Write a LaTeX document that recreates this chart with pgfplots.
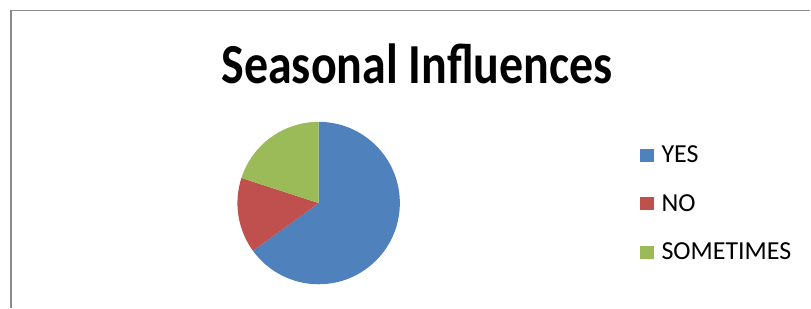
\documentclass[border=0pt]{standalone}
\usepackage{pgfplots}
\usepackage{pgfplotstable}
\pgfplotsset{compat=1.18}
\usepackage{fontspec}
\setmainfont{Carlito}
\definecolor{cYes}{HTML}{4F81BD}
\definecolor{cNo}{HTML}{C0504D}
\definecolor{cSome}{HTML}{9BBB59}
\definecolor{frame}{HTML}{8A8A8A}
\pgfplotstableread{
label value
YES 65
NO 15
SOMETIMES 20
}\piedata
\pgfplotstablegetelem{0}{value}\of\piedata \let\vA\pgfplotsretval
\pgfplotstablegetelem{1}{value}\of\piedata \let\vB\pgfplotsretval
\pgfplotstablegetelem{2}{value}\of\piedata \let\vC\pgfplotsretval
\pgfmathsetmacro\tot{\vA+\vB+\vC}
\pgfmathsetmacro\aA{90}
\pgfmathsetmacro\aB{\aA-360*(\vA/\tot)}
\pgfmathsetmacro\aC{\aB-360*(\vB/\tot)}
\pgfmathsetmacro\aD{\aC-360*(\vC/\tot)}
\def\R{60.975pt}
\begin{document}
\begin{tikzpicture}
\begin{axis}[
  hide axis, scale only axis,
  width=608.25pt, height=231pt,
  xmin=0, xmax=811, ymin=0, ymax=308,
  clip=false,
  legend cell align=left,
  legend image code/.code={\fill[#1, draw=none] (0pt,-5pt) rectangle (10.2pt,5pt);},
  legend style={at={(axis cs:640.7,162)}, anchor=north west, draw=none, fill=none,
    inner sep=0pt, outer sep=0pt, row sep=22.25pt,
    font=\fontsize{19.5}{20}\selectfont,
    nodes={inner sep=0pt},
    /tikz/every odd column/.style={column sep=6pt}},
]
\path (axis cs:0,0) rectangle (axis cs:811,308);
\draw[frame, line width=1.4pt] (axis cs:11,0) -- (axis cs:11,297.5) -- (axis cs:811,297.5);
\fill[cYes] (axis cs:319,104.7) -- ++(\aA:\R) arc[start angle=\aA, end angle=\aB, radius=\R] -- cycle;
\fill[cNo] (axis cs:319,104.7) -- ++(\aB:\R) arc[start angle=\aB, end angle=\aC, radius=\R] -- cycle;
\fill[cSome] (axis cs:319,104.7) -- ++(\aC:\R) arc[start angle=\aC, end angle=\aD, radius=\R] -- cycle;
\node[anchor=base, font=\fontsize{36}{40}\selectfont\bfseries, inner sep=0pt] at (axis cs:417.5,224) {\scalebox{1}[1.18]{Seasonal Influences}};
\addlegendimage{fill=cYes}
\addlegendentry{YES}
\addlegendimage{fill=cNo}
\addlegendentry{NO}
\addlegendimage{fill=cSome}
\addlegendentry{SOMETIMES}
\end{axis}
\end{tikzpicture}
\end{document}
